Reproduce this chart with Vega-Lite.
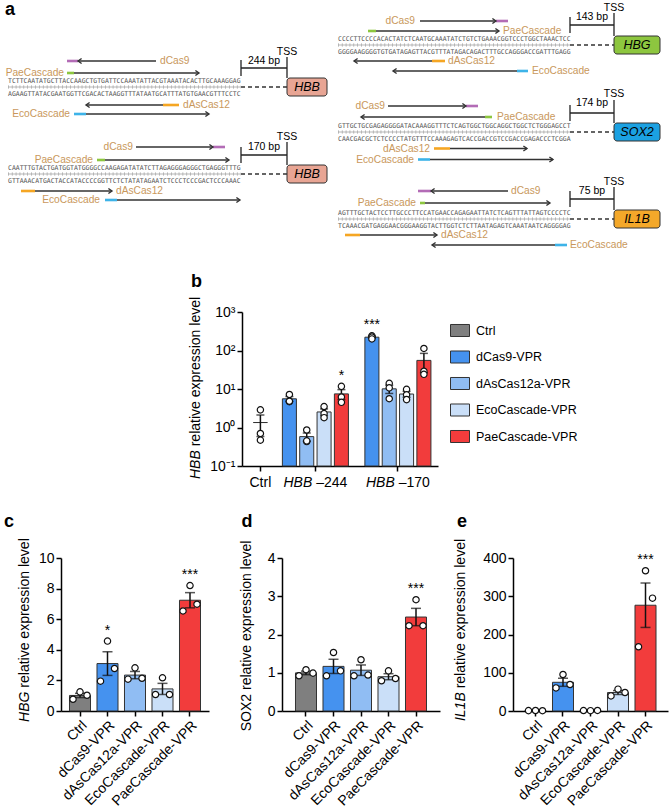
{
  "$schema": "https://vega.github.io/schema/vega-lite/v6.json",
  "padding": 0,
  "background": "white",
  "spacing": 0,
  "config": {
    "view": {"stroke": null},
    "font": "Liberation Sans",
    "axis": {"domainColor": "#000", "domainWidth": 1.5, "tickColor": "#000", "tickWidth": 1.5, "tickSize": 5, "labelColor": "#000", "labelFont": "Liberation Sans", "labelFontSize": 14, "grid": false, "labelPadding": 2, "labelOverlap": false},
    "legend": {"labelFont": "Liberation Sans"},
    "text": {"font": "Liberation Sans", "color": "#000"}
  },
  "resolve": {"scale": {"fill": "independent", "color": "independent", "shape": "independent"}, "legend": {"fill": "independent", "color": "independent", "shape": "independent"}},
  "datasets": {
    "loci": [
      {"gene": "HBB", "dist": "244 bp", "xs": 8, "xe": 241, "bx0": 287, "bx1": 327, "bxc": 307, "bpx": 264, "top": 80.5, "mid": 87, "bot": 93.5, "by0": 78, "by1": 96, "tssy": 52, "bpy": 61, "h": 68, "v0": 57, "t0": 60, "t1": 76, "seq1": "TCTTCAATATGCTTACCAAGCTGTGATTCCAAATATTACGTAAATACACTTGCAAAGGAG", "seq2": "AGAAGTTATACGAATGGTTCGACACTAAGGTTTATAATGCATTTATGTGAACGTTTCCTC"},
      {"gene": "HBB", "dist": "170 bp", "xs": 8, "xe": 241, "bx0": 287, "bx1": 327, "bxc": 307, "bpx": 264, "top": 167.5, "mid": 174, "bot": 180.5, "by0": 165, "by1": 183, "tssy": 137, "bpy": 147, "h": 155, "v0": 142, "t0": 147, "t1": 163, "seq1": "CAATTTGTACTGATGGTATGGGGCCAAGAGATATATCTTAGAGGGAGGGCTGAGGGTTTG", "seq2": "GTTAAACATGACTACCATACCCCGGTTCTCTATATAGAATCTCCCTCCCGACTCCCAAAC"},
      {"gene": "HBG", "dist": "143 bp", "xs": 338, "xe": 570, "bx0": 614, "bx1": 660, "bxc": 637, "bpx": 592, "top": 38.5, "mid": 45, "bot": 51.5, "by0": 36, "by1": 54, "tssy": 8, "bpy": 17, "h": 25, "v0": 13, "t0": 17, "t1": 33, "seq1": "CCCCTTCCCCACACTATCTCAATGCAAATATCTGTCTGAAACGGTCCCTGGCTAAACTCC", "seq2": "GGGGAAGGGGTGTGATAGAGTTACGTTTATAGACAGACTTTGCCAGGGACCGATTTGAGG"},
      {"gene": "SOX2", "dist": "174 bp", "xs": 338, "xe": 570, "bx0": 614, "bx1": 660, "bxc": 637, "bpx": 592, "top": 125.5, "mid": 132, "bot": 138.5, "by0": 123, "by1": 141, "tssy": 94, "bpy": 103, "h": 113, "v0": 100, "t0": 105, "t1": 121, "seq1": "GTTGCTGCGAGAGGGGATACAAAGGTTTCTCAGTGGCTGGCAGGCTGGCTCTGGGAGCCT", "seq2": "CAACGACGCTCTCCCCTATGTTTCCAAAGAGTCACCGACCGTCCGACCGAGACCCTCGGA"},
      {"gene": "IL1B", "dist": "75 bp", "xs": 338, "xe": 570, "bx0": 614, "bx1": 660, "bxc": 637, "bpx": 592, "top": 212.5, "mid": 219, "bot": 225.5, "by0": 210, "by1": 228, "tssy": 182, "bpy": 191, "h": 199, "v0": 187, "t0": 191, "t1": 207, "seq1": "AGTTTGCTACTCCTTGCCCTTCCATGAACCAGAGAATTATCTCAGTTTATTAGTCCCCTC", "seq2": "TCAAACGATGAGGAACGGGAAGGTACTTGGTCTCTTAATAGAGTCAAATAATCAGGGGAG"}
    ],
    "guides": [
      {"protein": "dCas9", "y": 61, "c0": 67, "c1": 78, "s0": 78, "s1": 156, "tip": 78, "dir": "L", "lx": 160, "lside": "start"},
      {"protein": "PaeCascade", "y": 73, "c0": 67, "c1": 74, "s0": 74, "s1": 199, "tip": 199, "dir": "R", "lx": 64, "lside": "end"},
      {"protein": "dAsCas12", "y": 105, "c0": 163, "c1": 179, "s0": 86, "s1": 163, "tip": 86, "dir": "L", "lx": 183, "lside": "start"},
      {"protein": "EcoCascade", "y": 114, "c0": 74, "c1": 86, "s0": 86, "s1": 209, "tip": 209, "dir": "R", "lx": 70, "lside": "end"},
      {"protein": "dCas9", "y": 147, "c0": 213, "c1": 225, "s0": 136, "s1": 213, "tip": 213, "dir": "R", "lx": 133, "lside": "end"},
      {"protein": "PaeCascade", "y": 160, "c0": 97, "c1": 105, "s0": 105, "s1": 229, "tip": 229, "dir": "R", "lx": 93, "lside": "end"},
      {"protein": "dAsCas12", "y": 191, "c0": 21, "c1": 35, "s0": 35, "s1": 112, "tip": 112, "dir": "R", "lx": 116, "lside": "start"},
      {"protein": "EcoCascade", "y": 200, "c0": 105, "c1": 117, "s0": 117, "s1": 240, "tip": 240, "dir": "R", "lx": 100, "lside": "end"},
      {"protein": "dCas9", "y": 21, "c0": 496, "c1": 508, "s0": 420, "s1": 496, "tip": 496, "dir": "R", "lx": 415, "lside": "end"},
      {"protein": "PaeCascade", "y": 31, "c0": 368, "c1": 376, "s0": 376, "s1": 499, "tip": 499, "dir": "R", "lx": 503, "lside": "start"},
      {"protein": "dAsCas12", "y": 61, "c0": 432, "c1": 445, "s0": 354, "s1": 432, "tip": 354, "dir": "L", "lx": 448, "lside": "start"},
      {"protein": "EcoCascade", "y": 71, "c0": 517, "c1": 528, "s0": 393, "s1": 517, "tip": 393, "dir": "L", "lx": 532, "lside": "start"},
      {"protein": "dCas9", "y": 106, "c0": 466, "c1": 478, "s0": 388, "s1": 466, "tip": 466, "dir": "R", "lx": 385, "lside": "end"},
      {"protein": "PaeCascade", "y": 117, "c0": 485, "c1": 492, "s0": 361, "s1": 485, "tip": 361, "dir": "L", "lx": 497, "lside": "start"},
      {"protein": "dAsCas12", "y": 148.5, "c0": 434, "c1": 450, "s0": 450, "s1": 527, "tip": 527, "dir": "R", "lx": 430, "lside": "end"},
      {"protein": "EcoCascade", "y": 159.5, "c0": 418, "c1": 430, "s0": 430, "s1": 553, "tip": 553, "dir": "R", "lx": 414, "lside": "end"},
      {"protein": "dCas9", "y": 191, "c0": 418, "c1": 431, "s0": 431, "s1": 508, "tip": 431, "dir": "L", "lx": 511, "lside": "start"},
      {"protein": "PaeCascade", "y": 203, "c0": 420, "c1": 425, "s0": 425, "s1": 550, "tip": 550, "dir": "R", "lx": 416, "lside": "end"},
      {"protein": "dAsCas12", "y": 235, "c0": 345, "c1": 360, "s0": 360, "s1": 437, "tip": 437, "dir": "R", "lx": 441, "lside": "start"},
      {"protein": "EcoCascade", "y": 245, "c0": 555, "c1": 567, "s0": 432, "s1": 555, "tip": 432, "dir": "L", "lx": 570, "lside": "start"}
    ],
    "b": [
      {"group": "Ctrl", "condition": "Ctrl", "value": 2.87},
      {"group": "Ctrl", "condition": "Ctrl", "value": 0.70},
      {"group": "Ctrl", "condition": "Ctrl", "value": 0.47},
      {"group": "HBB-244", "condition": "dCas9-VPR", "value": 7.2},
      {"group": "HBB-244", "condition": "dCas9-VPR", "value": 4.7},
      {"group": "HBB-244", "condition": "dCas9-VPR", "value": 4.8},
      {"group": "HBB-244", "condition": "dAsCas12a-VPR", "value": 0.86},
      {"group": "HBB-244", "condition": "dAsCas12a-VPR", "value": 0.43},
      {"group": "HBB-244", "condition": "dAsCas12a-VPR", "value": 0.45},
      {"group": "HBB-244", "condition": "EcoCascade-VPR", "value": 3.5},
      {"group": "HBB-244", "condition": "EcoCascade-VPR", "value": 2.3},
      {"group": "HBB-244", "condition": "EcoCascade-VPR", "value": 1.8},
      {"group": "HBB-244", "condition": "PaeCascade-VPR", "value": 11.7, "sig": "*"},
      {"group": "HBB-244", "condition": "PaeCascade-VPR", "value": 6.2, "sig": "*"},
      {"group": "HBB-244", "condition": "PaeCascade-VPR", "value": 4.5, "sig": "*"},
      {"group": "HBB-170", "condition": "dCas9-VPR", "value": 240, "sig": "***"},
      {"group": "HBB-170", "condition": "dCas9-VPR", "value": 225, "sig": "***"},
      {"group": "HBB-170", "condition": "dCas9-VPR", "value": 200, "sig": "***"},
      {"group": "HBB-170", "condition": "dAsCas12a-VPR", "value": 14},
      {"group": "HBB-170", "condition": "dAsCas12a-VPR", "value": 10.7},
      {"group": "HBB-170", "condition": "dAsCas12a-VPR", "value": 5.6},
      {"group": "HBB-170", "condition": "EcoCascade-VPR", "value": 9.8},
      {"group": "HBB-170", "condition": "EcoCascade-VPR", "value": 7.1},
      {"group": "HBB-170", "condition": "EcoCascade-VPR", "value": 5.3},
      {"group": "HBB-170", "condition": "PaeCascade-VPR", "value": 113},
      {"group": "HBB-170", "condition": "PaeCascade-VPR", "value": 29},
      {"group": "HBB-170", "condition": "PaeCascade-VPR", "value": 24}
    ],
    "b_labels": [
      {"group": "Ctrl", "gene": "", "num": "Ctrl"},
      {"group": "HBB-244", "gene": "HBB", "num": "–244"},
      {"group": "HBB-170", "gene": "HBB", "num": "–170"}
    ],
    "c": [
      {"condition": "Ctrl", "rep": "1", "value": 0.77},
      {"condition": "Ctrl", "rep": "2", "value": 1.25},
      {"condition": "Ctrl", "rep": "3", "value": 1.03},
      {"condition": "dCas9-VPR", "rep": "1", "value": 1.95, "sig": "*"},
      {"condition": "dCas9-VPR", "rep": "2", "value": 4.57, "sig": "*"},
      {"condition": "dCas9-VPR", "rep": "3", "value": 2.78, "sig": "*"},
      {"condition": "dAsCas12a-VPR", "rep": "1", "value": 2.08},
      {"condition": "dAsCas12a-VPR", "rep": "2", "value": 2.82},
      {"condition": "dAsCas12a-VPR", "rep": "3", "value": 2.14},
      {"condition": "EcoCascade-VPR", "rep": "1", "value": 1.08},
      {"condition": "EcoCascade-VPR", "rep": "2", "value": 2.17},
      {"condition": "EcoCascade-VPR", "rep": "3", "value": 1.08},
      {"condition": "PaeCascade-VPR", "rep": "1", "value": 6.54, "sig": "***"},
      {"condition": "PaeCascade-VPR", "rep": "2", "value": 8.2, "sig": "***"},
      {"condition": "PaeCascade-VPR", "rep": "3", "value": 6.98, "sig": "***"}
    ],
    "d": [
      {"condition": "Ctrl", "rep": "1", "value": 0.92},
      {"condition": "Ctrl", "rep": "2", "value": 1.08},
      {"condition": "Ctrl", "rep": "3", "value": 0.99},
      {"condition": "dCas9-VPR", "rep": "1", "value": 0.92},
      {"condition": "dCas9-VPR", "rep": "2", "value": 1.53},
      {"condition": "dCas9-VPR", "rep": "3", "value": 1.05},
      {"condition": "dAsCas12a-VPR", "rep": "1", "value": 0.92},
      {"condition": "dAsCas12a-VPR", "rep": "2", "value": 1.34},
      {"condition": "dAsCas12a-VPR", "rep": "3", "value": 0.94},
      {"condition": "EcoCascade-VPR", "rep": "1", "value": 0.79},
      {"condition": "EcoCascade-VPR", "rep": "2", "value": 1.05},
      {"condition": "EcoCascade-VPR", "rep": "3", "value": 0.85},
      {"condition": "PaeCascade-VPR", "rep": "1", "value": 2.23, "sig": "***"},
      {"condition": "PaeCascade-VPR", "rep": "2", "value": 2.91, "sig": "***"},
      {"condition": "PaeCascade-VPR", "rep": "3", "value": 2.23, "sig": "***"}
    ],
    "e": [
      {"condition": "Ctrl", "rep": "1", "value": 1.0},
      {"condition": "Ctrl", "rep": "2", "value": 1.3},
      {"condition": "Ctrl", "rep": "3", "value": 0.8},
      {"condition": "dCas9-VPR", "rep": "1", "value": 60.4},
      {"condition": "dCas9-VPR", "rep": "2", "value": 95.5},
      {"condition": "dCas9-VPR", "rep": "3", "value": 69.3},
      {"condition": "dAsCas12a-VPR", "rep": "1", "value": 1.2},
      {"condition": "dAsCas12a-VPR", "rep": "2", "value": 0.9},
      {"condition": "dAsCas12a-VPR", "rep": "3", "value": 1.4},
      {"condition": "EcoCascade-VPR", "rep": "1", "value": 39.4},
      {"condition": "EcoCascade-VPR", "rep": "2", "value": 57.1},
      {"condition": "EcoCascade-VPR", "rep": "3", "value": 48.3},
      {"condition": "PaeCascade-VPR", "rep": "1", "value": 168, "sig": "***"},
      {"condition": "PaeCascade-VPR", "rep": "2", "value": 366.6, "sig": "***"},
      {"condition": "PaeCascade-VPR", "rep": "3", "value": 295, "sig": "***"}
    ]
  },
  "vconcat": [
    {
      "width": 669,
      "height": 273,
      "layer": [
        {"data": {"name": "loci"}, "mark": {"type": "rule", "stroke": "#9a9a9a", "strokeWidth": 0.7},
         "encoding": {"x": {"field": "xs", "type": "quantitative", "scale": {"domain": [0, 669], "nice": false, "zero": false}, "axis": null}, "x2": {"field": "xe"},
                      "y": {"field": "mid", "type": "quantitative", "scale": {"domain": [0, 273], "nice": false, "zero": false, "reverse": true}, "axis": null}}},
        {"data": {"name": "loci"}, "mark": {"type": "rule", "stroke": "#9a9a9a", "strokeWidth": 3.4, "strokeDash": [0.6, 3.28]},
         "encoding": {"x": {"field": "xs", "type": "quantitative", "axis": null}, "x2": {"field": "xe"}, "y": {"field": "mid", "type": "quantitative", "axis": null}}},
        {"data": {"name": "loci"}, "mark": {"type": "text", "font": "DejaVu Sans Mono", "fontSize": 6.45, "align": "left", "baseline": "middle", "color": "#555"},
         "encoding": {"x": {"field": "xs", "type": "quantitative", "axis": null}, "y": {"field": "top", "type": "quantitative", "axis": null}, "text": {"field": "seq1"}}},
        {"data": {"name": "loci"}, "mark": {"type": "text", "font": "DejaVu Sans Mono", "fontSize": 6.45, "align": "left", "baseline": "middle", "color": "#555"},
         "encoding": {"x": {"field": "xs", "type": "quantitative", "axis": null}, "y": {"field": "bot", "type": "quantitative", "axis": null}, "text": {"field": "seq2"}}},
        {"data": {"name": "loci"}, "mark": {"type": "rule", "stroke": "#333", "strokeWidth": 1.3, "strokeDash": [4, 3]},
         "encoding": {"x": {"field": "xe", "type": "quantitative", "axis": null}, "x2": {"field": "bx0"}, "y": {"field": "mid", "type": "quantitative", "axis": null}}},
        {"data": {"name": "loci"}, "mark": {"type": "rect", "stroke": "#333", "strokeWidth": 1, "cornerRadius": 3},
         "encoding": {"x": {"field": "bx0", "type": "quantitative", "axis": null}, "x2": {"field": "bx1"}, "y": {"field": "by0", "type": "quantitative", "axis": null}, "y2": {"field": "by1"},
                      "fill": {"field": "gene", "type": "nominal", "scale": {"domain": ["HBB", "HBG", "SOX2", "IL1B"], "range": ["#e8a594", "#8dc63f", "#1ba1e2", "#f4a82a"]}, "legend": null}}},
        {"data": {"name": "loci"}, "mark": {"type": "text", "fontSize": 12.5, "fontStyle": "italic", "align": "center", "baseline": "middle"},
         "encoding": {"x": {"field": "bxc", "type": "quantitative", "axis": null}, "y": {"field": "mid", "type": "quantitative", "axis": null}, "text": {"field": "gene"}}},
        {"data": {"name": "loci"}, "mark": {"type": "rule", "stroke": "#222", "strokeWidth": 1.3},
         "encoding": {"x": {"field": "bx0", "type": "quantitative", "axis": null}, "y": {"field": "v0", "type": "quantitative", "axis": null}, "y2": {"field": "by0"}}},
        {"data": {"name": "loci"}, "mark": {"type": "rule", "stroke": "#222", "strokeWidth": 1.3},
         "encoding": {"x": {"field": "xe", "type": "quantitative", "axis": null}, "x2": {"field": "bx0"}, "y": {"field": "h", "type": "quantitative", "axis": null}}},
        {"data": {"name": "loci"}, "mark": {"type": "rule", "stroke": "#222", "strokeWidth": 1.3},
         "encoding": {"x": {"field": "xe", "type": "quantitative", "axis": null}, "y": {"field": "t0", "type": "quantitative", "axis": null}, "y2": {"field": "t1"}}},
        {"data": {"name": "loci"}, "mark": {"type": "text", "fontSize": 10.5, "align": "center", "baseline": "middle"},
         "encoding": {"x": {"field": "bx0", "type": "quantitative", "axis": null}, "y": {"field": "tssy", "type": "quantitative", "axis": null}, "text": {"value": "TSS"}}},
        {"data": {"name": "loci"}, "mark": {"type": "text", "fontSize": 10.5, "align": "center", "baseline": "middle"},
         "encoding": {"x": {"field": "bpx", "type": "quantitative", "axis": null}, "y": {"field": "bpy", "type": "quantitative", "axis": null}, "text": {"field": "dist"}}},
        {"data": {"name": "guides"}, "mark": {"type": "rule", "strokeWidth": 2.6},
         "encoding": {"x": {"field": "c0", "type": "quantitative", "axis": null}, "x2": {"field": "c1"}, "y": {"field": "y", "type": "quantitative", "axis": null},
                      "color": {"field": "protein", "type": "nominal", "scale": {"domain": ["dCas9", "PaeCascade", "dAsCas12", "EcoCascade"], "range": ["#b36cb6", "#8dc63f", "#f5a623", "#3db3e8"]}, "legend": null}}},
        {"data": {"name": "guides"}, "mark": {"type": "rule", "stroke": "#333", "strokeWidth": 1.4},
         "encoding": {"x": {"field": "s0", "type": "quantitative", "axis": null}, "x2": {"field": "s1"}, "y": {"field": "y", "type": "quantitative", "axis": null}}},
        {"data": {"name": "guides"}, "mark": {"type": "point", "filled": false, "color": "#333", "strokeWidth": 1.4, "size": 36, "opacity": 1},
         "encoding": {"x": {"field": "tip", "type": "quantitative", "axis": null}, "y": {"field": "y", "type": "quantitative", "axis": null},
                      "shape": {"field": "dir", "type": "nominal", "scale": {"domain": ["R", "L"], "range": ["M-1.2,-0.85L0,0L-1.2,0.85", "M1.2,-0.85L0,0L1.2,0.85"]}, "legend": null}}},
        {"data": {"name": "guides"}, "transform": [{"filter": "datum.lside === 'start'"}], "mark": {"type": "text", "fontSize": 10.2, "align": "left", "baseline": "middle", "color": "#c9985c"},
         "encoding": {"x": {"field": "lx", "type": "quantitative", "axis": null}, "y": {"field": "y", "type": "quantitative", "axis": null}, "text": {"field": "protein"}}},
        {"data": {"name": "guides"}, "transform": [{"filter": "datum.lside === 'end'"}], "mark": {"type": "text", "fontSize": 10.2, "align": "right", "baseline": "middle", "color": "#c9985c"},
         "encoding": {"x": {"field": "lx", "type": "quantitative", "axis": null}, "y": {"field": "y", "type": "quantitative", "axis": null}, "text": {"field": "protein"}}},
        {"data": {"values": [{"t": "a"}]}, "mark": {"type": "text", "fontSize": 18, "fontWeight": "bold", "align": "left", "baseline": "alphabetic"},
         "encoding": {"x": {"datum": 5, "type": "quantitative", "axis": null}, "y": {"datum": 15, "type": "quantitative", "axis": null}, "text": {"field": "t"}}}
      ]
    },
    {
      "spacing": 0,
      "bounds": "flush",
      "resolve": {"scale": {"fill": "independent", "color": "independent", "shape": "independent"}, "legend": {"fill": "independent", "color": "independent", "shape": "independent"}},
      "hconcat": [
        {"width": 242, "height": 201, "data": {"values": []}, "mark": "point", "encoding": {}},
        {
          "width": 196,
          "height": 154,
          "layer": [
            {"data": {"name": "b"}, "transform": [{"filter": "datum.group === 'Ctrl'"}],
             "mark": {"type": "bar", "width": {"band": 0.51}, "stroke": "#333", "strokeWidth": 1},
             "encoding": {
               "x": {"field": "group", "type": "nominal", "scale": {"domain": ["Ctrl", "gap1", "HBB-244", "gap2", "gap3", "HBB-170"], "paddingInner": 0, "paddingOuter": 0.5636, "align": 0.15}, "axis": {"values": ["Ctrl", "HBB-244", "HBB-170"], "labels": false, "title": null}},
               "y": {"aggregate": "mean", "field": "value", "type": "quantitative", "scale": {"type": "log", "domain": [0.1, 1000], "nice": false}, "axis": {"values": [0.1, 1, 10, 100, 1000], "title": null, "labelOverlap": false, "labelExpr": "datum.value < 0.5 ? '10⁻¹' : datum.value < 5 ? '10⁰' : datum.value < 50 ? '10¹' : datum.value < 500 ? '10²' : '10³'"}},
               "fill": {"field": "condition", "type": "nominal", "scale": {"domain": ["Ctrl", "dCas9-VPR", "dAsCas12a-VPR", "EcoCascade-VPR", "PaeCascade-VPR"], "range": ["#7f7f7f", "#4592ef", "#90bdf3", "#cadff8", "#f23c3c"]},
                        "legend": {"orient": "none", "legendX": 208, "legendY": 8.5, "title": null, "symbolType": "M-1,-0.632H1V0.632H-1Z", "symbolSize": 361, "symbolStrokeColor": "#333", "symbolStrokeWidth": 1, "symbolOpacity": 1, "labelFontSize": 12.5, "labelOffset": 6, "rowPadding": 7.5, "padding": 0}}
             }},
            {"data": {"name": "b"}, "transform": [{"filter": "datum.group !== 'Ctrl'"}],
             "mark": {"type": "bar", "stroke": "#333", "strokeWidth": 1},
             "encoding": {
               "x": {"field": "group", "type": "nominal"},
               "xOffset": {"field": "condition", "type": "nominal", "scale": {"domain": ["dCas9-VPR", "dAsCas12a-VPR", "EcoCascade-VPR", "PaeCascade-VPR"], "range": [-20.92, 48.42], "paddingInner": 0.19, "paddingOuter": 0.095}},
               "y": {"aggregate": "mean", "field": "value", "type": "quantitative"},
               "fill": {"field": "condition", "type": "nominal"}
             }},
            {"data": {"name": "b"}, "transform": [{"filter": "datum.group === 'Ctrl'"}],
             "mark": {"type": "errorbar", "extent": "stderr", "color": "#111", "thickness": 1.5, "ticks": {"size": 8, "thickness": 1.5, "color": "#111"}},
             "encoding": {"x": {"field": "group", "type": "nominal"}, "y": {"field": "value", "type": "quantitative"}}},
            {"data": {"name": "b"}, "transform": [{"filter": "datum.group !== 'Ctrl'"}],
             "mark": {"type": "errorbar", "extent": "stderr", "color": "#111", "thickness": 1.5, "ticks": {"size": 8, "thickness": 1.5, "color": "#111"}},
             "encoding": {"x": {"field": "group", "type": "nominal"}, "xOffset": {"field": "condition", "type": "nominal"}, "y": {"field": "value", "type": "quantitative"}}},
            {"data": {"name": "b"}, "transform": [{"filter": "datum.group === 'Ctrl'"}],
             "mark": {"type": "point", "shape": "circle", "filled": true, "fill": "white", "stroke": "#111", "strokeWidth": 1.2, "size": 40, "opacity": 1},
             "encoding": {"x": {"field": "group", "type": "nominal"}, "y": {"field": "value", "type": "quantitative"}}},
            {"data": {"name": "b"}, "transform": [{"filter": "datum.group !== 'Ctrl'"}],
             "mark": {"type": "point", "shape": "circle", "filled": true, "fill": "white", "stroke": "#111", "strokeWidth": 1.2, "size": 40, "opacity": 1},
             "encoding": {"x": {"field": "group", "type": "nominal"}, "xOffset": {"field": "condition", "type": "nominal"}, "y": {"field": "value", "type": "quantitative"}}},
            {"data": {"name": "b"}, "transform": [{"filter": "datum.sig"}, {"aggregate": [{"op": "max", "field": "value", "as": "top"}], "groupby": ["group", "condition", "sig"]}],
             "mark": {"type": "text", "fontSize": 14, "align": "center", "baseline": "alphabetic", "dy": -6.5},
             "encoding": {"x": {"field": "group", "type": "nominal"}, "xOffset": {"field": "condition", "type": "nominal"}, "y": {"field": "top", "type": "quantitative"}, "text": {"field": "sig"}}},
            {"data": {"name": "b_labels"}, "transform": [{"filter": "datum.gene === ''"}],
             "mark": {"type": "text", "fontSize": 14, "align": "center", "baseline": "middle", "dy": 17},
             "encoding": {"x": {"field": "group", "type": "nominal"}, "y": {"datum": 0.1, "type": "quantitative"}, "text": {"field": "num"}}},
            {"data": {"name": "b_labels"}, "transform": [{"filter": "datum.gene !== ''"}],
             "mark": {"type": "text", "fontSize": 14, "fontStyle": "italic", "align": "right", "baseline": "middle", "dy": 17, "dx": -3.1},
             "encoding": {"x": {"field": "group", "type": "nominal"}, "y": {"datum": 0.1, "type": "quantitative"}, "text": {"field": "gene"}}},
            {"data": {"name": "b_labels"}, "transform": [{"filter": "datum.gene !== ''"}],
             "mark": {"type": "text", "fontSize": 14, "align": "left", "baseline": "middle", "dy": 17, "dx": 0.8},
             "encoding": {"x": {"field": "group", "type": "nominal"}, "y": {"datum": 0.1, "type": "quantitative"}, "text": {"field": "num"}}},
            {"data": {"values": [{}]}, "mark": {"type": "text", "angle": 270, "fontSize": 14, "fontStyle": "italic", "align": "right", "baseline": "middle", "dy": -64},
             "encoding": {"x": {"datum": "Ctrl", "type": "nominal"}, "y": {"datum": 0.257, "type": "quantitative"}, "text": {"value": "HBB"}}},
            {"data": {"values": [{}]}, "mark": {"type": "text", "angle": 270, "fontSize": 14, "align": "left", "baseline": "middle", "dy": -64, "dx": 3.9},
             "encoding": {"x": {"datum": "Ctrl", "type": "nominal"}, "y": {"datum": 0.257, "type": "quantitative"}, "text": {"value": "relative expression level"}}},
            {"data": {"values": [{}]}, "mark": {"type": "text", "fontSize": 18, "fontWeight": "bold", "align": "center", "baseline": "middle", "dx": -64, "dy": -30},
             "encoding": {"x": {"datum": "Ctrl", "type": "nominal"}, "y": {"datum": 1000, "type": "quantitative"}, "text": {"value": "b"}}}
          ]
        }
      ]
    },
    {
      "spacing": 0,
      "bounds": "flush",
      "resolve": {"scale": {"fill": "independent", "color": "independent", "shape": "independent"}, "legend": {"fill": "independent", "color": "independent", "shape": "independent"}},
      "hconcat": [
        {"width": 61, "height": 153, "data": {"values": []}, "mark": "point", "encoding": {}},
        {
          "width": 148,
          "height": 153,
          "layer": [
            {"data": {"name": "c"}, "mark": {"type": "bar", "stroke": "#333", "strokeWidth": 1},
             "encoding": {
               "x": {"field": "condition", "type": "nominal", "scale": {"domain": ["Ctrl", "dCas9-VPR", "dAsCas12a-VPR", "EcoCascade-VPR", "PaeCascade-VPR"], "paddingInner": 0.236, "paddingOuter": 0.309}, "axis": {"labelAngle": -45, "title": null}},
               "y": {"aggregate": "mean", "field": "value", "type": "quantitative", "scale": {"domain": [0, 10], "nice": false}, "axis": {"tickCount": 5, "title": null, "labelOverlap": false}},
               "fill": {"field": "condition", "type": "nominal", "scale": {"domain": ["Ctrl", "dCas9-VPR", "dAsCas12a-VPR", "EcoCascade-VPR", "PaeCascade-VPR"], "range": ["#7f7f7f", "#4592ef", "#90bdf3", "#cadff8", "#f23c3c"]}, "legend": null}
             }},
            {"data": {"name": "c"}, "mark": {"type": "errorbar", "extent": "stderr", "color": "#111", "thickness": 1.5, "ticks": {"size": 10, "thickness": 1.5, "color": "#111"}},
             "encoding": {"x": {"field": "condition", "type": "nominal"}, "y": {"field": "value", "type": "quantitative"}}},
            {"data": {"name": "c"}, "transform": [{"filter": "datum.rep === '1'"}], "mark": {"type": "point", "shape": "circle", "filled": true, "fill": "white", "stroke": "#111", "strokeWidth": 1.2, "size": 40, "opacity": 1, "xOffset": -7},
             "encoding": {"x": {"field": "condition", "type": "nominal"}, "y": {"field": "value", "type": "quantitative"}}},
            {"data": {"name": "c"}, "transform": [{"filter": "datum.rep === '2'"}], "mark": {"type": "point", "shape": "circle", "filled": true, "fill": "white", "stroke": "#111", "strokeWidth": 1.2, "size": 40, "opacity": 1},
             "encoding": {"x": {"field": "condition", "type": "nominal"}, "y": {"field": "value", "type": "quantitative"}}},
            {"data": {"name": "c"}, "transform": [{"filter": "datum.rep === '3'"}], "mark": {"type": "point", "shape": "circle", "filled": true, "fill": "white", "stroke": "#111", "strokeWidth": 1.2, "size": 40, "opacity": 1, "xOffset": 7},
             "encoding": {"x": {"field": "condition", "type": "nominal"}, "y": {"field": "value", "type": "quantitative"}}},
            {"data": {"name": "c"}, "transform": [{"filter": "datum.sig"}, {"aggregate": [{"op": "max", "field": "value", "as": "top"}], "groupby": ["condition", "sig"]}],
             "mark": {"type": "text", "fontSize": 14, "align": "center", "baseline": "alphabetic", "dy": -6.5},
             "encoding": {"x": {"field": "condition", "type": "nominal"}, "y": {"field": "top", "type": "quantitative"}, "text": {"field": "sig"}}},
            {"data": {"values": [{}]}, "mark": {"type": "text", "angle": 270, "fontSize": 14, "fontStyle": "italic", "align": "right", "baseline": "middle", "dy": -55},
             "encoding": {"x": {"datum": "Ctrl", "type": "nominal"}, "y": {"datum": 1.27, "type": "quantitative"}, "text": {"value": "HBG"}}},
            {"data": {"values": [{}]}, "mark": {"type": "text", "angle": 270, "fontSize": 14, "align": "left", "baseline": "middle", "dy": -55, "dx": 3.9},
             "encoding": {"x": {"datum": "Ctrl", "type": "nominal"}, "y": {"datum": 1.27, "type": "quantitative"}, "text": {"value": "relative expression level"}}},
            {"data": {"values": [{}]}, "mark": {"type": "text", "fontSize": 18, "fontWeight": "bold", "align": "center", "baseline": "middle", "dx": -71, "dy": -36},
             "encoding": {"x": {"datum": "Ctrl", "type": "nominal"}, "y": {"datum": 10, "type": "quantitative"}, "text": {"value": "c"}}}
          ]
        },
        {"width": 73, "height": 153, "data": {"values": []}, "mark": "point", "encoding": {}},
        {
          "width": 158,
          "height": 153,
          "layer": [
            {"data": {"name": "d"}, "mark": {"type": "bar", "stroke": "#333", "strokeWidth": 1},
             "encoding": {
               "x": {"field": "condition", "type": "nominal", "scale": {"domain": ["Ctrl", "dCas9-VPR", "dAsCas12a-VPR", "EcoCascade-VPR", "PaeCascade-VPR"], "paddingInner": 0.236, "paddingOuter": 0.4905}, "axis": {"labelAngle": -45, "title": null}},
               "y": {"aggregate": "mean", "field": "value", "type": "quantitative", "scale": {"domain": [0, 4], "nice": false}, "axis": {"tickCount": 4, "title": null, "labelOverlap": false}},
               "fill": {"field": "condition", "type": "nominal", "scale": {"domain": ["Ctrl", "dCas9-VPR", "dAsCas12a-VPR", "EcoCascade-VPR", "PaeCascade-VPR"], "range": ["#7f7f7f", "#4592ef", "#90bdf3", "#cadff8", "#f23c3c"]}, "legend": null}
             }},
            {"data": {"name": "d"}, "mark": {"type": "errorbar", "extent": "stderr", "color": "#111", "thickness": 1.5, "ticks": {"size": 10, "thickness": 1.5, "color": "#111"}},
             "encoding": {"x": {"field": "condition", "type": "nominal"}, "y": {"field": "value", "type": "quantitative"}}},
            {"data": {"name": "d"}, "transform": [{"filter": "datum.rep === '1'"}], "mark": {"type": "point", "shape": "circle", "filled": true, "fill": "white", "stroke": "#111", "strokeWidth": 1.2, "size": 40, "opacity": 1, "xOffset": -7},
             "encoding": {"x": {"field": "condition", "type": "nominal"}, "y": {"field": "value", "type": "quantitative"}}},
            {"data": {"name": "d"}, "transform": [{"filter": "datum.rep === '2'"}], "mark": {"type": "point", "shape": "circle", "filled": true, "fill": "white", "stroke": "#111", "strokeWidth": 1.2, "size": 40, "opacity": 1},
             "encoding": {"x": {"field": "condition", "type": "nominal"}, "y": {"field": "value", "type": "quantitative"}}},
            {"data": {"name": "d"}, "transform": [{"filter": "datum.rep === '3'"}], "mark": {"type": "point", "shape": "circle", "filled": true, "fill": "white", "stroke": "#111", "strokeWidth": 1.2, "size": 40, "opacity": 1, "xOffset": 7},
             "encoding": {"x": {"field": "condition", "type": "nominal"}, "y": {"field": "value", "type": "quantitative"}}},
            {"data": {"name": "d"}, "transform": [{"filter": "datum.sig"}, {"aggregate": [{"op": "max", "field": "value", "as": "top"}], "groupby": ["condition", "sig"]}],
             "mark": {"type": "text", "fontSize": 14, "align": "center", "baseline": "alphabetic", "dy": -6.5},
             "encoding": {"x": {"field": "condition", "type": "nominal"}, "y": {"field": "top", "type": "quantitative"}, "text": {"field": "sig"}}},
            {"data": {"values": [{}]}, "mark": {"type": "text", "angle": 270, "fontSize": 14, "align": "right", "baseline": "middle", "dy": -59},
             "encoding": {"x": {"datum": "Ctrl", "type": "nominal"}, "y": {"datum": 0.447, "type": "quantitative"}, "text": {"value": "SOX2"}}},
            {"data": {"values": [{}]}, "mark": {"type": "text", "angle": 270, "fontSize": 14, "align": "left", "baseline": "middle", "dy": -59, "dx": 3.9},
             "encoding": {"x": {"datum": "Ctrl", "type": "nominal"}, "y": {"datum": 0.447, "type": "quantitative"}, "text": {"value": "relative expression level"}}},
            {"data": {"values": [{}]}, "mark": {"type": "text", "fontSize": 18, "fontWeight": "bold", "align": "center", "baseline": "middle", "dx": -59, "dy": -36},
             "encoding": {"x": {"datum": "Ctrl", "type": "nominal"}, "y": {"datum": 4, "type": "quantitative"}, "text": {"value": "d"}}}
          ]
        },
        {"width": 73, "height": 153, "data": {"values": []}, "mark": "point", "encoding": {}},
        {
          "width": 155,
          "height": 153,
          "layer": [
            {"data": {"name": "e"}, "mark": {"type": "bar", "stroke": "#333", "strokeWidth": 1},
             "encoding": {
               "x": {"field": "condition", "type": "nominal", "scale": {"domain": ["Ctrl", "dCas9-VPR", "dAsCas12a-VPR", "EcoCascade-VPR", "PaeCascade-VPR"], "paddingInner": 0.236, "paddingOuter": 0.436}, "axis": {"labelAngle": -45, "title": null}},
               "y": {"aggregate": "mean", "field": "value", "type": "quantitative", "scale": {"domain": [0, 400], "nice": false}, "axis": {"tickCount": 4, "title": null, "labelOverlap": false}},
               "fill": {"field": "condition", "type": "nominal", "scale": {"domain": ["Ctrl", "dCas9-VPR", "dAsCas12a-VPR", "EcoCascade-VPR", "PaeCascade-VPR"], "range": ["#7f7f7f", "#4592ef", "#90bdf3", "#cadff8", "#f23c3c"]}, "legend": null}
             }},
            {"data": {"name": "e"}, "mark": {"type": "errorbar", "extent": "stderr", "color": "#111", "thickness": 1.5, "ticks": {"size": 10, "thickness": 1.5, "color": "#111"}},
             "encoding": {"x": {"field": "condition", "type": "nominal"}, "y": {"field": "value", "type": "quantitative"}}},
            {"data": {"name": "e"}, "transform": [{"filter": "datum.rep === '1'"}], "mark": {"type": "point", "shape": "circle", "filled": true, "fill": "white", "stroke": "#111", "strokeWidth": 1.2, "size": 40, "opacity": 1, "xOffset": -7},
             "encoding": {"x": {"field": "condition", "type": "nominal"}, "y": {"field": "value", "type": "quantitative"}}},
            {"data": {"name": "e"}, "transform": [{"filter": "datum.rep === '2'"}], "mark": {"type": "point", "shape": "circle", "filled": true, "fill": "white", "stroke": "#111", "strokeWidth": 1.2, "size": 40, "opacity": 1},
             "encoding": {"x": {"field": "condition", "type": "nominal"}, "y": {"field": "value", "type": "quantitative"}}},
            {"data": {"name": "e"}, "transform": [{"filter": "datum.rep === '3'"}], "mark": {"type": "point", "shape": "circle", "filled": true, "fill": "white", "stroke": "#111", "strokeWidth": 1.2, "size": 40, "opacity": 1, "xOffset": 7},
             "encoding": {"x": {"field": "condition", "type": "nominal"}, "y": {"field": "value", "type": "quantitative"}}},
            {"data": {"name": "e"}, "transform": [{"filter": "datum.sig"}, {"aggregate": [{"op": "max", "field": "value", "as": "top"}], "groupby": ["condition", "sig"]}],
             "mark": {"type": "text", "fontSize": 14, "align": "center", "baseline": "alphabetic", "dy": -6.5},
             "encoding": {"x": {"field": "condition", "type": "nominal"}, "y": {"field": "top", "type": "quantitative"}, "text": {"field": "sig"}}},
            {"data": {"values": [{}]}, "mark": {"type": "text", "angle": 270, "fontSize": 14, "fontStyle": "italic", "align": "right", "baseline": "middle", "dy": -74.5},
             "encoding": {"x": {"datum": "Ctrl", "type": "nominal"}, "y": {"datum": 49, "type": "quantitative"}, "text": {"value": "IL1B"}}},
            {"data": {"values": [{}]}, "mark": {"type": "text", "angle": 270, "fontSize": 14, "align": "left", "baseline": "middle", "dy": -74.5, "dx": 3.9},
             "encoding": {"x": {"datum": "Ctrl", "type": "nominal"}, "y": {"datum": 49, "type": "quantitative"}, "text": {"value": "relative expression level"}}},
            {"data": {"values": [{}]}, "mark": {"type": "text", "fontSize": 18, "fontWeight": "bold", "align": "center", "baseline": "middle", "dx": -73.5, "dy": -36},
             "encoding": {"x": {"datum": "Ctrl", "type": "nominal"}, "y": {"datum": 400, "type": "quantitative"}, "text": {"value": "e"}}}
          ]
        }
      ]
    }
  ]
}
